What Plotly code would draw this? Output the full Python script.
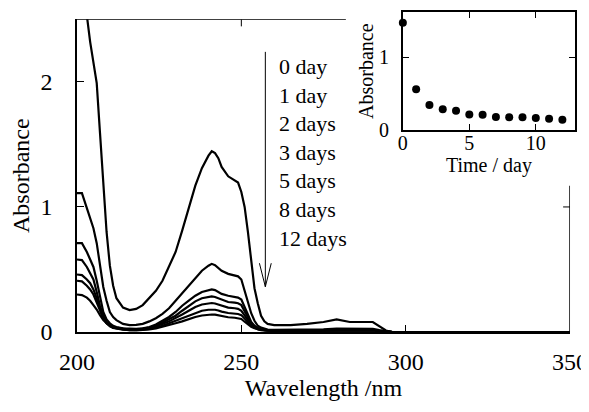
import plotly.graph_objects as go

# ---------------- data ----------------
wavelength = [200, 201.5, 203, 204, 205, 206, 207, 208, 209, 210,
              211, 212, 214, 216, 218, 220, 222, 224, 226, 228,
              230, 232, 234, 236, 238, 240, 241, 242, 243, 244,
              246, 248, 249, 250, 251, 252, 253, 254, 255, 256,
              257, 258, 260, 265, 270, 275, 279, 283, 290, 292,
              294, 296, 300, 350]

abs_0day = [3.4, 2.95, 2.53, 2.32, 2.17, 1.99, 1.59, 1.19, 0.80, 0.53,
            0.37, 0.27, 0.195, 0.175, 0.185, 0.215, 0.27, 0.33, 0.41, 0.52,
            0.64, 0.81, 0.99, 1.17, 1.31, 1.41, 1.445, 1.43, 1.39, 1.32,
            1.245, 1.21, 1.195, 1.12, 1.00, 0.80, 0.55, 0.35, 0.23, 0.13,
            0.085, 0.065, 0.055, 0.055, 0.065, 0.08, 0.10, 0.08, 0.08, 0.045,
            0.012, 0.0, 0.0, 0.0]
abs_1day = [1.11, 1.11, 0.99, 0.91, 0.83, 0.71, 0.52, 0.36, 0.25, 0.16,
            0.12, 0.095, 0.065, 0.055, 0.057, 0.065, 0.085, 0.11, 0.145, 0.19,
            0.25, 0.31, 0.37, 0.43, 0.49, 0.53, 0.545, 0.535, 0.515, 0.49,
            0.465, 0.455, 0.445, 0.42, 0.33, 0.22, 0.15, 0.09, 0.05, 0.035,
            0.025, 0.02, 0.018, 0.018, 0.02, 0.022, 0.028, 0.025, 0.025, 0.015,
            0.005, 0.0, 0.0, 0.0]
abs_2days = [0.71, 0.71, 0.64, 0.58, 0.52, 0.41, 0.27, 0.16, 0.10, 0.07,
             0.05, 0.04, 0.03, 0.025, 0.025, 0.03, 0.04, 0.06, 0.09, 0.12,
             0.16, 0.21, 0.25, 0.29, 0.32, 0.335, 0.34, 0.335, 0.32, 0.305,
             0.29, 0.28, 0.275, 0.26, 0.20, 0.13, 0.08, 0.05, 0.03, 0.02,
             0.015, 0.012, 0.01, 0.01, 0.012, 0.015, 0.02, 0.02, 0.02, 0.01,
             0.003, 0.0, 0.0, 0.0]
abs_3days = [0.58, 0.575, 0.52, 0.47, 0.42, 0.32, 0.21, 0.13, 0.08, 0.055,
             0.04, 0.035, 0.025, 0.02, 0.02, 0.025, 0.035, 0.05, 0.075, 0.10,
             0.13, 0.17, 0.21, 0.245, 0.27, 0.283, 0.285, 0.28, 0.27, 0.255,
             0.24, 0.235, 0.23, 0.215, 0.165, 0.11, 0.07, 0.045, 0.03, 0.02,
             0.015, 0.012, 0.01, 0.01, 0.012, 0.014, 0.018, 0.017, 0.017, 0.009,
             0.003, 0.0, 0.0, 0.0]
abs_5days = [0.46, 0.455, 0.42, 0.39, 0.34, 0.27, 0.18, 0.11, 0.07, 0.05,
             0.035, 0.03, 0.02, 0.018, 0.018, 0.022, 0.03, 0.045, 0.065, 0.085,
             0.11, 0.14, 0.17, 0.20, 0.22, 0.23, 0.232, 0.228, 0.22, 0.21,
             0.195, 0.19, 0.185, 0.17, 0.13, 0.09, 0.06, 0.04, 0.025, 0.018,
             0.014, 0.012, 0.01, 0.01, 0.011, 0.013, 0.016, 0.015, 0.015, 0.008,
             0.002, 0.0, 0.0, 0.0]
abs_8days = [0.41, 0.405, 0.37, 0.34, 0.30, 0.24, 0.17, 0.11, 0.07, 0.045,
             0.033, 0.027, 0.018, 0.015, 0.015, 0.018, 0.025, 0.035, 0.05, 0.07,
             0.09, 0.11, 0.135, 0.155, 0.17, 0.178, 0.18, 0.178, 0.172, 0.163,
             0.152, 0.147, 0.144, 0.135, 0.105, 0.075, 0.05, 0.035, 0.022, 0.016,
             0.013, 0.011, 0.01, 0.009, 0.01, 0.012, 0.014, 0.013, 0.013, 0.007,
             0.002, 0.0, 0.0, 0.0]
abs_12days = [0.30, 0.295, 0.275, 0.25, 0.215, 0.18, 0.135, 0.095, 0.07, 0.05,
              0.037, 0.03, 0.02, 0.015, 0.013, 0.015, 0.02, 0.028, 0.04, 0.055,
              0.07, 0.085, 0.105, 0.12, 0.132, 0.139, 0.14, 0.139, 0.134, 0.127,
              0.118, 0.114, 0.111, 0.104, 0.082, 0.06, 0.042, 0.03, 0.02, 0.015,
              0.012, 0.01, 0.009, 0.008, 0.009, 0.011, 0.013, 0.012, 0.012, 0.006,
              0.002, 0.0, 0.0, 0.0]

series_labels = ["0 day", "1 day", "2 days", "3 days", "5 days", "8 days", "12 days"]
series_values = [abs_0day, abs_1day, abs_2days, abs_3days, abs_5days, abs_8days, abs_12days]

x_ticks = [200, 250, 300, 350]
y_ticks = [0, 1, 2]

inset_days = [0, 1, 2, 3, 4, 5, 6, 7, 8, 9, 10, 11, 12]
inset_abs = [1.476, 0.56, 0.344, 0.285, 0.266, 0.216, 0.21, 0.179, 0.175, 0.175, 0.165, 0.156, 0.142]
inset_x_ticks = [0, 5, 10]
inset_y_ticks = [0, 1]

# ---------------- figure ----------------
FONT = "Liberation Serif, Times New Roman, serif"
fig = go.Figure()

for lab, vals in zip(series_labels, series_values):
    fig.add_trace(go.Scatter(x=wavelength, y=vals, mode="lines", name=lab,
                             line=dict(color="black", width=2.2),
                             xaxis="x", yaxis="y", showlegend=False))

fig.add_trace(go.Scatter(x=inset_days, y=inset_abs, mode="markers",
                         marker=dict(color="black", size=8),
                         xaxis="x2", yaxis="y2", showlegend=False, cliponaxis=False))

common = dict(ticks="inside", tickwidth=1, tickcolor="black",
              showline=True, linecolor="black", linewidth=1.5,
              showgrid=False, zeroline=False, automargin=False)

# the page body adds an 8 px offset, so the figure is smaller than the window
fig.update_layout(
    template="none",
    width=581, height=396,
    margin=dict(l=69, r=13, t=4, b=72),
    paper_bgcolor="white", plot_bgcolor="rgba(0,0,0,0)",
    font=dict(family=FONT, color="black", size=24),
    xaxis=dict(domain=[0, 0.988], range=[200, 350], tickvals=x_ticks, ticklen=7,
               anchor="y", tickfont=dict(size=24), ticklabelstandoff=7,
               title=dict(text="Wavelength /nm", font=dict(size=24), standoff=1), **common),
    yaxis=dict(domain=[0, 0.977], range=[0, 2.5], tickvals=y_ticks, ticklen=7,
               anchor="x", tickfont=dict(size=24), ticklabelstandoff=18,
               title=dict(text="Absorbance", font=dict(size=24), standoff=12), **common),
    xaxis2=dict(domain=[0.653, 0.998], range=[0, 12.95], tickvals=inset_x_ticks, ticklen=6,
                mirror="ticks", anchor="y2", tickfont=dict(size=20), ticklabelstandoff=-6,
                title=dict(text="Time / day", font=dict(size=20), standoff=0), **common),
    yaxis2=dict(domain=[0.631, 0.999], range=[0, 1.62], tickvals=inset_y_ticks, ticklen=6,
                mirror="ticks", anchor="x2", tickfont=dict(size=20), ticklabelstandoff=8,
                title=dict(text="Absorbance", font=dict(size=20), standoff=0), **common),
)

# partial frame of the main panel (top and right borders interrupted by the inset)
fig.add_shape(type="line", xref="x", yref="y", x0=200, x1=281.8, y0=2.5, y1=2.5,
              line=dict(color="black", width=1.5))
fig.add_shape(type="line", xref="x", yref="y", x0=350, x1=350, y0=0, y1=1.17,
              line=dict(color="black", width=1.5))
fig.add_shape(type="line", xref="x", yref="y", x0=250, x1=250, y0=2.5, y1=2.444,
              line=dict(color="black", width=1))
fig.add_shape(type="line", xref="x", yref="y", x0=350, x1=347.9, y0=1, y1=1,
              line=dict(color="black", width=1))

# arrow with open head
fig.add_shape(type="line", xref="x", yref="y", x0=257.3, x1=257.3, y0=2.24, y1=0.362,
              line=dict(color="black", width=1))
fig.add_shape(type="path", xref="x", yref="y",
              path="M 255.5 0.55 L 257.3 0.362 L 259.1 0.55",
              line=dict(color="black", width=1))

fig.add_annotation(x=260.8, y=1.432, xref="x", yref="y", xanchor="left", yanchor="middle",
                   align="left", showarrow=False, text="<br>".join(series_labels),
                   font=dict(size=22, family=FONT, color="black"))

fig.write_html("out.html")
